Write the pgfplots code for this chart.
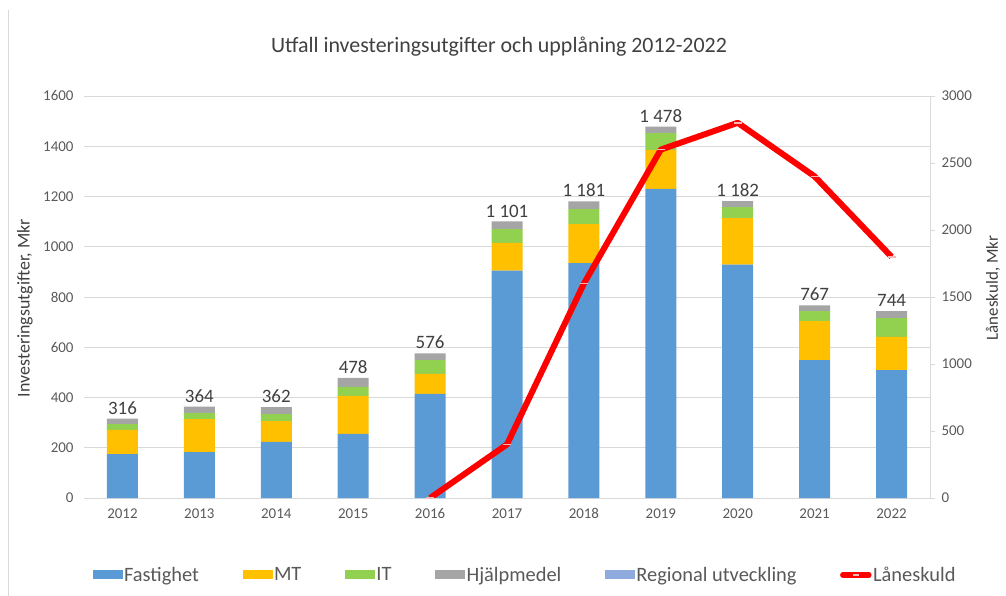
\documentclass[border=0pt]{standalone}
\usepackage{fontspec}
\setmainfont{Carlito}
\usepackage{pgfplots}
\usepackage{pgfplotstable}
\pgfplotsset{compat=1.18}
\definecolor{cFast}{HTML}{5B9BD5}
\definecolor{cMT}{HTML}{FFC000}
\definecolor{cIT}{HTML}{92D050}
\definecolor{cHj}{HTML}{A5A5A5}
\definecolor{cReg}{HTML}{8FAADC}
\definecolor{cGrid}{HTML}{D9D9D9}
\definecolor{cTxt}{HTML}{595959}
\definecolor{cDark}{HTML}{404040}
\definecolor{cMark}{HTML}{F4B6B6}
\pgfplotstableread[col sep=comma]{
x,fast,mt,it,hj,reg,tot,lab
0,175,96,23,22,0,316,316
1,183,131,24,26,0,364,364
2,223,83,28,28,0,362,362
3,255,151,36,36,0,478,478
4,414,80,55,27,0,576,576
5,905,110,55,31,0,1101,1 101
6,935,155,60,31,0,1181,1 181
7,1230,155,67,26,0,1478,1 478
8,929,185,44,24,0,1182,1 182
9,549,155,40,23,0,767,767
10,509,132,75,28,0,744,744
}\bars
\pgfplotstableread{
x lan
4 0
5 400
6 1600
7 2600
8 2800
9 2400
10 1800
}\loan
\pgfplotsset{common/.style={
  at={(0,0)}, anchor=south west,
  scale only axis, width=846bp, height=402bp,
  xmin=-0.5, xmax=10.5,
  scaled ticks=false,
  /pgf/number format/.cd, 1000 sep={}, assume math mode=true, /pgfplots/.cd,
  tick label style={font=\fontsize{15}{18}\selectfont, text=cTxt},
}}
\begin{document}
\begin{tikzpicture}
\path[use as bounding box] (-84bp,-98bp) rectangle (922bp,498bp);
\draw[cGrid, line width=0.8bp] (-76bp,-98bp) -- (-76bp,488bp);
\begin{axis}[
  common,
  ybar stacked, bar width=31bp,
  ymin=0, ymax=1600,
  xtick={0,...,10},
  xticklabels={2012,2013,2014,2015,2016,2017,2018,2019,2020,2021,2022},
  ytick={0,200,...,1600},
  ymajorgrids, grid style={cGrid, line width=0.8bp},
  axis x line*=bottom, axis y line*=left,
  x axis line style={cGrid, line width=0.8bp, -},
  y axis line style={draw=none},
  major tick length=0pt,
  tick style={draw=none},
  xticklabel style={yshift=-7bp},
  yticklabel style={xshift=-7bp},
  legend image code/.code={\fill[#1] (0bp,-4.5bp) rectangle (30bp,4.5bp);},
  legend style={draw=none, fill=none, at={(0.521,-0.1915)}, anchor=center,
    font=\fontsize{20.5}{24}\selectfont, text=cTxt,
    nodes={inner sep=1.5bp},
    /tikz/every even column/.append style={column sep=42bp}},
  legend columns=6,
]
\addplot[fill=cFast, draw=none] table[x=x, y=fast] {\bars};
\addlegendentry{Fastighet}
\addplot[fill=cMT, draw=none] table[x=x, y=mt] {\bars};
\addlegendentry{MT}
\addplot[fill=cIT, draw=none] table[x=x, y=it] {\bars};
\addlegendentry{IT}
\addplot[fill=cHj, draw=none] table[x=x, y=hj] {\bars};
\addlegendentry{Hjälpmedel}
\addplot[fill=cReg, draw=none] table[x=x, y=reg] {\bars};
\addlegendentry{Regional utveckling}
\addlegendimage{legend image code/.code={\draw[red, line width=5.5bp, line cap=round] (3bp,0bp) -- (29bp,0bp); \draw[cMark, line width=1.2bp] (13bp,0bp) -- (19bp,0bp);}}
\addlegendentry{Låneskuld}
\end{axis}
\begin{axis}[
  common,
  ymin=0, ymax=1600,
  axis lines=none,
]
\addplot[draw=none, mark=none, nodes near coords, point meta=explicit symbolic,
  every node near coord/.append style={font=\fontsize{19}{23}\selectfont, text=cDark, anchor=south, inner sep=0pt, yshift=4bp}]
  table[x=x, y=tot, meta=lab] {\bars};
\end{axis}
\begin{axis}[
  common,
  ymin=0, ymax=3000,
  axis y line*=right, axis x line=none,
  ytick={0,500,...,3000},
  y axis line style={cGrid, line width=0.8bp, -},
  ytick style={cGrid, line width=0.8bp},
  tick align=outside, major tick length=5bp,
  yticklabel style={xshift=3bp},
]
\addplot[red, line width=6bp, line join=round, mark=-, mark size=4bp,
  mark options={draw=cMark, line width=1.5bp}] table[x=x, y=lan] {\loan};
\end{axis}
\node[font=\fontsize{22}{26}\selectfont, text=cDark] at (415bp,451bp) {Utfall investeringsutgifter och upplåning 2012-2022};
\node[font=\fontsize{18}{22}\selectfont, text=cDark, rotate=90] at (-59bp,190bp) {Investeringsutgifter, Mkr};
\node[font=\fontsize{17}{21}\selectfont, text=cDark, rotate=90] at (909bp,210bp) {Låneskuld, Mkr};
\end{tikzpicture}
\end{document}
